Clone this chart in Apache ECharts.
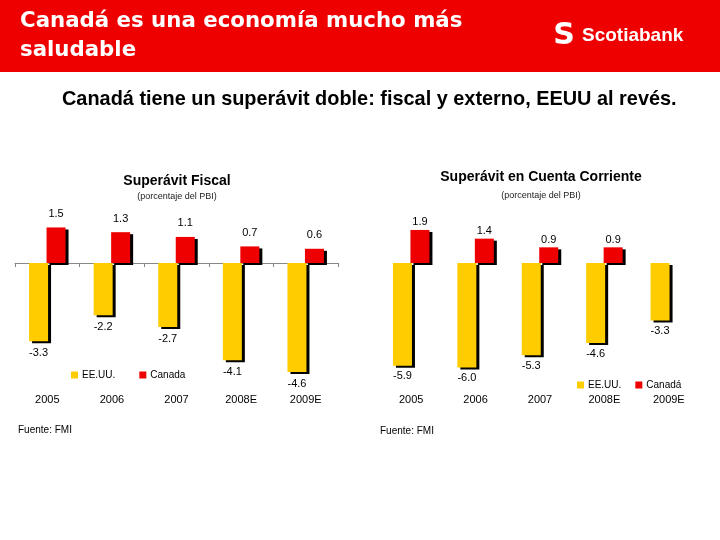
<!DOCTYPE html>
<html>
<head>
<meta charset="utf-8">
<script src="https://cdn.jsdelivr.net/npm/echarts@6/dist/echarts.min.js"></script>
<style>html,body{margin:0;padding:0;background:#fff}#c{width:720px;height:540px}</style>
</head>
<body>
<div id="c"></div>
<script>
const categories = ['2005', '2006', '2007', '2008E', '2009E'];
const fiscalUS = [-3.3, -2.2, -2.7, -4.1, -4.6];
const fiscalCA = [1.5, 1.3, 1.1, 0.7, 0.6];
const currentUS = [-5.9, -6.0, -5.3, -4.6, -3.3];
const currentCA = [1.9, 1.4, 0.9, 0.9, null];

const YELLOW = '#FFCC00';
const RED = '#EE0000';
const FONT = '"Liberation Sans", Arial, sans-serif';

const shadow = { shadowColor: '#000', shadowBlur: 0, shadowOffsetX: 3, shadowOffsetY: 2 };
const fmt = p => (p.value == null ? '' : Number(p.value).toFixed(1));

function barSeries(name, data, xi, yi, color, pos, dist) {
  return {
    type: 'bar', name: name, data: data,
    xAxisIndex: xi, yAxisIndex: yi,
    barWidth: 19, barGap: '-8%',
    itemStyle: Object.assign({ color: color }, shadow),
    label: { show: true, position: pos, distance: dist, formatter: fmt,
             color: '#000', fontSize: 11, fontFamily: FONT },
    emphasis: { disabled: true },
    animation: false
  };
}

const chart = echarts.init(document.getElementById('c'), null, { renderer: 'canvas' });
chart.setOption({
  backgroundColor: '#fff',
  animation: false,
  grid: [
    { left: 15, width: 323, top: 215.6, height: 165.9 },
    { left: 379, width: 322, top: 228.2, height: 156.6 }
  ],
  xAxis: [
    { type: 'category', gridIndex: 0, data: categories, position: 'bottom',
      axisLine: { onZero: true, lineStyle: { color: '#888', width: 1 } },
      axisTick: { show: true, length: 4, lineStyle: { color: '#888' } },
      axisLabel: { show: false } },
    { type: 'category', gridIndex: 0, data: categories, position: 'bottom',
      axisLine: { show: false, onZero: false }, axisTick: { show: false },
      axisLabel: { margin: 13, fontSize: 11, color: '#000', fontFamily: FONT } },
    { type: 'category', gridIndex: 1, data: categories, position: 'bottom',
      axisLine: { show: false, onZero: false }, axisTick: { show: false },
      axisLabel: { margin: 10, fontSize: 11, color: '#000', fontFamily: FONT } }
  ],
  yAxis: [
    { type: 'value', gridIndex: 0, min: -5, max: 2, show: false },
    { type: 'value', gridIndex: 1, min: -7, max: 2, show: false }
  ],
  legend: [
    { left: 66, top: 365, icon: 'rect', itemWidth: 7, itemHeight: 7, itemGap: 24,
      data: ['EE.UU.', 'Canada'],
      itemStyle: { shadowBlur: 0, shadowOffsetX: 0, shadowOffsetY: 0, shadowColor: 'rgba(0,0,0,0)' },
      textStyle: { fontSize: 10, color: '#000', fontFamily: FONT, padding: [0, 0, 0, -1] } },
    { left: 572, top: 375, icon: 'rect', itemWidth: 7, itemHeight: 7, itemGap: 14,
      data: ['EE.UU.', 'Canadá'],
      itemStyle: { shadowBlur: 0, shadowOffsetX: 0, shadowOffsetY: 0, shadowColor: 'rgba(0,0,0,0)' },
      textStyle: { fontSize: 10, color: '#000', fontFamily: FONT, padding: [0, 0, 0, -1] } }
  ],
  series: [
    barSeries('EE.UU.', fiscalUS, 0, 0, YELLOW, 'bottom', 6),
    barSeries('Canada', fiscalCA, 0, 0, RED, 'top', 8),
    barSeries('EE.UU.', currentUS, 2, 1, YELLOW, 'bottom', 5),
    barSeries('Canadá', currentCA, 2, 1, RED, 'top', 2)
  ],
  graphic: [
    { type: 'rect', left: 0, top: 0, z: -1, shape: { width: 720, height: 72 }, style: { fill: '#EE0000' } },
    { type: 'text', x: 20, y: 21, style: { text: 'Canadá es una economía mucho más', fill: '#fff',
      font: 'bold 21.3px "DejaVu Sans", Verdana, sans-serif', textVerticalAlign: 'middle' } },
    { type: 'text', x: 20, y: 50, style: { text: 'saludable', fill: '#fff',
      font: 'bold 21.3px "DejaVu Sans", Verdana, sans-serif', textVerticalAlign: 'middle' } },
    { type: 'text', x: 564, y: 36, style: { text: 'S', fill: '#fff',
      font: 'bold 30px "DejaVu Sans", sans-serif', textAlign: 'center', textVerticalAlign: 'middle' } },
    { type: 'text', x: 582, y: 36, style: { text: 'Scotiabank', fill: '#fff',
      font: 'bold 19px ' + FONT, textVerticalAlign: 'middle' } },
    { type: 'text', x: 62, y: 100, style: { text: 'Canadá tiene un superávit doble: fiscal y externo, EEUU al revés.',
      fill: '#000', font: 'bold 19.9px ' + FONT, textVerticalAlign: 'middle' } },
    { type: 'text', x: 177, y: 181, style: { text: 'Superávit Fiscal', fill: '#000',
      font: 'bold 14px ' + FONT, textAlign: 'center', textVerticalAlign: 'middle' } },
    { type: 'text', x: 177, y: 197, style: { text: '(porcentaje del PBI)', fill: '#222',
      font: '9px ' + FONT, textAlign: 'center', textVerticalAlign: 'middle' } },
    { type: 'text', x: 541, y: 177, style: { text: 'Superávit en Cuenta Corriente', fill: '#000',
      font: 'bold 14px ' + FONT, textAlign: 'center', textVerticalAlign: 'middle' } },
    { type: 'text', x: 541, y: 196, style: { text: '(porcentaje del PBI)', fill: '#222',
      font: '9px ' + FONT, textAlign: 'center', textVerticalAlign: 'middle' } },
    { type: 'text', x: 18, y: 430, style: { text: 'Fuente: FMI', fill: '#000',
      font: '10px ' + FONT, textVerticalAlign: 'middle' } },
    { type: 'text', x: 380, y: 431, style: { text: 'Fuente: FMI', fill: '#000',
      font: '10px ' + FONT, textVerticalAlign: 'middle' } }
  ]
});
</script>
</body>
</html>
